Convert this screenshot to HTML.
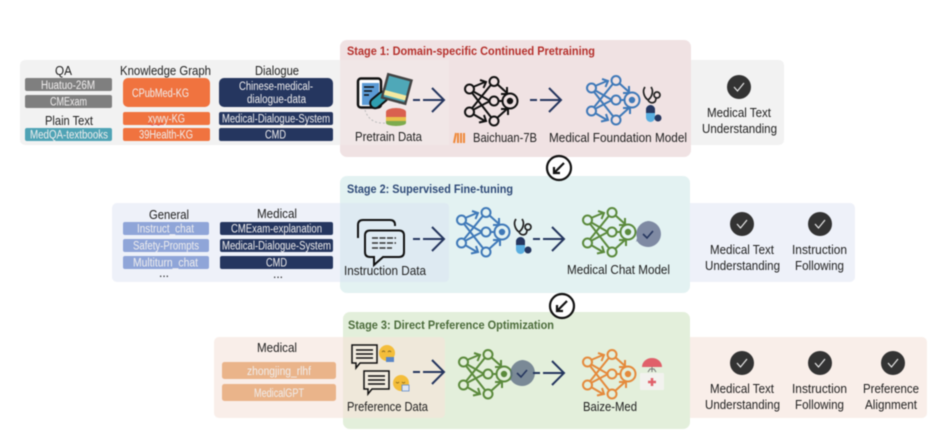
<!DOCTYPE html>
<html><head><meta charset="utf-8">
<style>
html,body{margin:0;padding:0;background:#fff;width:945px;height:438px;overflow:hidden}
svg{display:block;filter:blur(0.45px)}
text{font-family:"Liberation Sans",sans-serif;font-size:12.5px;fill:#222}
.w text,text.w{fill:#f0eeee;font-size:11.5px}
text.b{font-weight:bold;font-size:12px}
.arr{fill:none;stroke:#25365f;stroke-width:2}
</style></head><body>
<svg width="945" height="438" viewBox="0 0 945 438" xmlns="http://www.w3.org/2000/svg">
<defs>
<g id="net" fill="none" stroke="currentColor" stroke-width="2">
<path d="M4 12 29 44M4 35 29 4M4 12 25 24M4 35 25 24M33 24H38"/>
<path d="M8 10 20 5M15 3 21 5 18.500 11M8 37 20 44M14 45.500 21 44 19 38M32 7 42 16M42 10V17H36M32 41 42 32M36 32H43V38"/>
<circle cx="4.500" cy="12" r="4.500" fill="var(--f)"/><circle cx="4.500" cy="35" r="4.500" fill="var(--f)"/>
<circle cx="29" cy="4.500" r="4.500" fill="var(--f)"/><circle cx="29" cy="24" r="4.500" fill="var(--f)"/><circle cx="29" cy="44" r="4.500" fill="var(--f)"/>
<circle cx="45" cy="24" r="7.500" fill="var(--f)"/><circle cx="45" cy="24" r="3.200" fill="currentColor" stroke="none"/>
</g>
<g id="chk"><circle r="12" fill="#333"/><path d="M-5 0-1.500 4 5-4" fill="none" stroke="#e8e8e8" stroke-width="1.200"/></g>
<g id="arrow" class="arr"><path d="M0 0H7M10 0H31M19-12 31 0 19 12"/></g>
<g id="steth" fill="none" stroke="#222" stroke-width="1.700"><path d="M2 1C-1 5 1 11 5 14 9 11 11 5 8 1M5 14C7 18 13 18 13 12"/><circle cx="14" cy="9" r="3"/></g>
<g id="pill"><rect x="0" y="0" width="9" height="17" rx="4.500" fill="#5aaee0"/><path d="M0 8V4.500A4.500 4.500 0 0 1 9 4.500V8Z" fill="#25365f"/><circle cx="12" cy="13" r="3.500" fill="#25365f"/></g>
<g id="bub"><path d="M1 1H26V19H9L5 24V19H1Z" fill="#fff" fill-opacity=".15" stroke="#111" stroke-width="1.500"/><path d="M5 6H22M5 10H22M5 14H22" stroke="#111" stroke-width="1.500"/></g>
</defs>

<!-- side panels -->
<rect x="20" y="60" width="764" height="85" rx="5" fill="#f2f2f2"/>
<rect x="112" y="203" width="743" height="79" rx="5" fill="#eef1f9"/>
<rect x="214" y="337" width="713" height="81" rx="5" fill="#f9eee9"/>

<!-- stages -->
<rect x="340" y="40" width="351" height="117" rx="7" fill="#f0e2e3"/>
<path d="M340 60H449V145H340Z" fill="#f1e7e7"/>
<rect x="340" y="176" width="350" height="117" rx="7" fill="#e3f2f2"/>
<path d="M340 203H444Q449 203 449 208V277Q449 282 444 282H340Z" fill="#deeaf2"/>
<rect x="343" y="312" width="347" height="117" rx="7" fill="#e3efdb"/>
<path d="M343 337H440Q445 337 445 342V413Q445 418 440 418H343Z" fill="#efe8da"/>

<!-- Stage 1 left -->
<text x="55" y="75" textLength="17" lengthAdjust="spacingAndGlyphs">QA</text>
<text x="120" y="75" textLength="91" lengthAdjust="spacingAndGlyphs">Knowledge Graph</text>
<text x="255" y="75" textLength="44" lengthAdjust="spacingAndGlyphs">Dialogue</text>
<text x="45" y="125" textLength="48" lengthAdjust="spacingAndGlyphs">Plain Text</text>
<rect x="25" y="78" width="87" height="13" rx="2" fill="#7f7f7f"/>
<rect x="25" y="95" width="87" height="13" rx="2" fill="#7f7f7f"/>
<rect x="25" y="128" width="87" height="13" rx="2" fill="#4fa3b5"/>
<rect x="123" y="78" width="87" height="29" rx="5" fill="#f0733f"/>
<rect x="123" y="112" width="87" height="13" rx="2" fill="#f0733f"/>
<rect x="123" y="128" width="87" height="13" rx="2" fill="#f0733f"/>
<rect x="219" y="78" width="114" height="29" rx="5" fill="#25365f"/>
<rect x="219" y="112" width="114" height="13" rx="2" fill="#25365f"/>
<rect x="219" y="128" width="114" height="13" rx="2" fill="#25365f"/>
<g class="w">
<text x="41" y="89" textLength="54" lengthAdjust="spacingAndGlyphs">Huatuo-26M</text>
<text x="50" y="105.500" textLength="37" lengthAdjust="spacingAndGlyphs">CMExam</text>
<text x="30" y="138.500" textLength="78" lengthAdjust="spacingAndGlyphs">MedQA-textbooks</text>
<text x="132" y="97" textLength="57" lengthAdjust="spacingAndGlyphs">CPubMed-KG</text>
<text x="148" y="122.500" textLength="37" lengthAdjust="spacingAndGlyphs">xywy-KG</text>
<text x="139" y="138.500" textLength="54" lengthAdjust="spacingAndGlyphs">39Health-KG</text>
<text x="239" y="90" textLength="74" lengthAdjust="spacingAndGlyphs">Chinese-medical-</text>
<text x="247" y="103" textLength="59" lengthAdjust="spacingAndGlyphs">dialogue-data</text>
<text x="222" y="122.500" textLength="108" lengthAdjust="spacingAndGlyphs">Medical-Dialogue-System</text>
<text x="265" y="138.500" textLength="21" lengthAdjust="spacingAndGlyphs">CMD</text>
</g>
<path d="M148 124.500q1.500-1.500 3 0t3 0 3 0 3 0 3 0" fill="none" stroke="#e04040" stroke-width=".6"/>

<!-- Stage 1 content -->
<text class="b" x="347" y="55" textLength="248" lengthAdjust="spacingAndGlyphs" style="fill:#b5302c">Stage 1: Domain-specific Continued Pretraining</text>
<path d="M382 89C392 84 404 96 399 104M365 110C368 120 376 124 386 123" fill="none" stroke="#bbb" stroke-width="1" stroke-dasharray="2 2"/>
<rect x="358" y="78.500" width="23" height="29" rx="3" fill="#fff" stroke="#111" stroke-width="2.500"/>
<rect x="362" y="83" width="17" height="22" fill="#5b9bd5"/>
<path d="M364 87H374M364 91H372M364 95H369" stroke="#111" stroke-width="1.500"/>
<g transform="rotate(-40 379 100)"><rect x="369" y="95" width="20" height="10" rx="5" fill="#2f9fb0" stroke="#111" stroke-width="2"/></g>
<g transform="rotate(15 397 88)"><rect x="385" y="77" width="24" height="24" fill="#4fa8b8" stroke="#444" stroke-width="2.500"/><rect x="386" y="93" width="22" height="5" fill="#f5e9a0"/></g>
<path d="M386 112a10 4 0 0 1 20 0V118H386Z" fill="#d9604f"/><rect x="386" y="117" width="20" height="4" fill="#e8c04a"/><path d="M386 121H406V123a10 3 0 0 1-20 0Z" fill="#7dab4e"/>
<use href="#arrow" x="413" y="100"/>
<use href="#net" x="465" y="77" style="color:#111;--f:#f0e2e3"/>
<use href="#arrow" x="530" y="100"/>
<use href="#net" x="587" y="76" style="color:#3f79b8;--f:#f0e2e3"/>
<use href="#steth" x="643" y="86"/>
<use href="#pill" x="646" y="105"/>
<text x="355" y="141" textLength="67" lengthAdjust="spacingAndGlyphs">Pretrain Data</text>
<path d="M454 143 456 133M458 143V133M461 143V133M464 143V133" stroke="#ef8a3c" stroke-width="2"/>
<text x="473" y="142" textLength="64" lengthAdjust="spacingAndGlyphs">Baichuan-7B</text>
<text x="549" y="142" textLength="138" lengthAdjust="spacingAndGlyphs">Medical Foundation Model</text>
<use href="#chk" x="739" y="87"/>
<text x="707" y="117" textLength="64" lengthAdjust="spacingAndGlyphs">Medical Text</text>
<text x="702" y="133" textLength="75" lengthAdjust="spacingAndGlyphs">Understanding</text>

<!-- Circle arrows -->
<g fill="#fff" stroke="#111" stroke-width="2.200">
<circle cx="559" cy="168" r="12"/><path d="M564 163 554 173M554 167V173H560" fill="none"/>
<circle cx="562" cy="306" r="12"/><path d="M567 301 557 311M557 305V311H563" fill="none"/>
</g>

<!-- Stage 2 -->
<text class="b" x="347" y="193" textLength="166" lengthAdjust="spacingAndGlyphs" style="fill:#2f4a78">Stage 2: Supervised Fine-tuning</text>
<text x="149" y="219" textLength="40" lengthAdjust="spacingAndGlyphs">General</text>
<text x="257" y="218" textLength="40" lengthAdjust="spacingAndGlyphs">Medical</text>
<rect x="123" y="222" width="86" height="13" rx="2" fill="#8fa5d8"/>
<rect x="123" y="239" width="86" height="13" rx="2" fill="#8fa5d8"/>
<rect x="123" y="256" width="86" height="13" rx="2" fill="#8fa5d8"/>
<rect x="220" y="222" width="113" height="13" rx="2" fill="#25365f"/>
<rect x="220" y="239" width="113" height="13" rx="2" fill="#25365f"/>
<rect x="220" y="256" width="113" height="13" rx="2" fill="#25365f"/>
<g class="w">
<text x="137" y="232.500" textLength="57" lengthAdjust="spacingAndGlyphs">Instruct_chat</text>
<text x="133" y="249.500" textLength="66" lengthAdjust="spacingAndGlyphs">Safety-Prompts</text>
<text x="133" y="266.500" textLength="65" lengthAdjust="spacingAndGlyphs">Multiturn_chat</text>
<text x="231" y="232.500" textLength="91" lengthAdjust="spacingAndGlyphs">CMExam-explanation</text>
<text x="222" y="249.500" textLength="109" lengthAdjust="spacingAndGlyphs">Medical-Dialogue-System</text>
<text x="266" y="266.500" textLength="21" lengthAdjust="spacingAndGlyphs">CMD</text>
</g>
<text x="159" y="277" textLength="10" lengthAdjust="spacingAndGlyphs">...</text>
<text x="273" y="278" textLength="10" lengthAdjust="spacingAndGlyphs">...</text>
<path d="M358 238V225Q358 220 363 220H390Q395 220 395 225V226" fill="none" stroke="#111" stroke-width="2"/>
<path d="M370 230.500H399Q404 230.500 404 235.500V252Q404 257 399 257H383L374 265V257H370Q365 257 365 252V235.500Q365 230.500 370 230.500Z" fill="none" stroke="#111" stroke-width="2"/>
<path d="M372 238H396M372 243H396M372 248H392" stroke="#333" stroke-width="1.500" stroke-dasharray="6 1.500"/>
<use href="#arrow" x="413" y="239"/>
<use href="#net" x="457" y="208" style="color:#3f79b8;--f:#e3f2f2"/>
<use href="#steth" x="514" y="218"/>
<use href="#pill" x="516" y="237"/>
<use href="#arrow" x="533" y="239"/>
<use href="#net" x="583" y="208" style="color:#5b8a3c;--f:#e3f2f2"/>
<path d="M648 221a13 13 0 1 1-11 20l-1 1 1-4a13 13 0 0 1 11-17Z" fill="#7f8aa3"/>
<path d="M643 234 647 238 653 231" fill="none" stroke="#25365f" stroke-width="1.600"/>
<text x="344" y="275" textLength="82" lengthAdjust="spacingAndGlyphs">Instruction Data</text>
<text x="567" y="274" textLength="103" lengthAdjust="spacingAndGlyphs">Medical Chat Model</text>
<use href="#chk" x="742" y="224"/><use href="#chk" x="820" y="224"/>
<text x="710" y="254" textLength="64" lengthAdjust="spacingAndGlyphs">Medical Text</text>
<text x="705" y="270" textLength="75" lengthAdjust="spacingAndGlyphs">Understanding</text>
<text x="792" y="254" textLength="55" lengthAdjust="spacingAndGlyphs">Instruction</text>
<text x="795" y="270" textLength="49" lengthAdjust="spacingAndGlyphs">Following</text>

<!-- Stage 3 -->
<text class="b" x="348" y="329" textLength="206" lengthAdjust="spacingAndGlyphs" style="fill:#4b6b3a">Stage 3: Direct Preference Optimization</text>
<text x="257" y="352" textLength="40" lengthAdjust="spacingAndGlyphs">Medical</text>
<rect x="222" y="362" width="114" height="17" rx="2.500" fill="#eab48a"/>
<rect x="222" y="384" width="114" height="17" rx="2.500" fill="#eab48a"/>
<g class="w">
<text x="247" y="375" textLength="64" lengthAdjust="spacingAndGlyphs">zhongjing_rlhf</text>
<text x="254" y="397" textLength="50" lengthAdjust="spacingAndGlyphs">MedicalGPT</text>
</g>
<use href="#bub" x="351" y="344"/>
<circle cx="387" cy="353" r="8" fill="#f3bd3a"/>
<path d="M382 352q1.500-2 3 0M388 352q1.500-2 3 0" fill="none" stroke="#8a6a20"/>
<path d="M386 357H394V362H386Z" fill="#5a86c6"/>
<use href="#bub" x="363" y="370"/>
<circle cx="401" cy="383" r="8" fill="#f3bd3a"/>
<path d="M396 382q1.500 2 3 0M402 382q1.500 2 3 0" fill="none" stroke="#8a6a20"/>
<path d="M402 385H409V391H402Z" fill="#dfe6f2" stroke="#5a86c6" stroke-width=".8"/>
<text x="347" y="411" textLength="81" lengthAdjust="spacingAndGlyphs">Preference Data</text>
<use href="#arrow" x="413" y="372"/>
<use href="#net" x="459" y="350" style="color:#5b8a3c;--f:#e3efdb"/>
<path d="M522 360a13 13 0 1 1-11 20l-1 1 1-4a13 13 0 0 1 11-17Z" fill="#5f6f85" fill-opacity=".8"/>
<path d="M517 373 521 377 527 370" fill="none" stroke="#25365f" stroke-width="1.600"/>
<use href="#arrow" x="533" y="373"/>
<use href="#net" x="583" y="350" style="color:#e48a3c;--f:#e3efdb"/>
<path d="M642 367a10 9 0 0 1 20 0Z" fill="#e0606a"/>
<path d="M652 367V372M648 372 650 369H654L656 372" fill="none" stroke="#777" stroke-width="1"/>
<rect x="640" y="373" width="24" height="17" rx="1" fill="#f2f2ee"/>
<path d="M652 378V386M648 382H656" stroke="#e0606a" stroke-width="2.500"/>
<text x="583" y="411" textLength="54" lengthAdjust="spacingAndGlyphs">Baize-Med</text>
<use href="#chk" x="742" y="363"/><use href="#chk" x="820" y="363"/><use href="#chk" x="893" y="363"/>
<text x="710" y="393" textLength="64" lengthAdjust="spacingAndGlyphs">Medical Text</text>
<text x="705" y="409" textLength="75" lengthAdjust="spacingAndGlyphs">Understanding</text>
<text x="792" y="393" textLength="55" lengthAdjust="spacingAndGlyphs">Instruction</text>
<text x="795" y="409" textLength="49" lengthAdjust="spacingAndGlyphs">Following</text>
<text x="863" y="393" textLength="56" lengthAdjust="spacingAndGlyphs">Preference</text>
<text x="865" y="409" textLength="52" lengthAdjust="spacingAndGlyphs">Alignment</text>
</svg>
</body></html>
